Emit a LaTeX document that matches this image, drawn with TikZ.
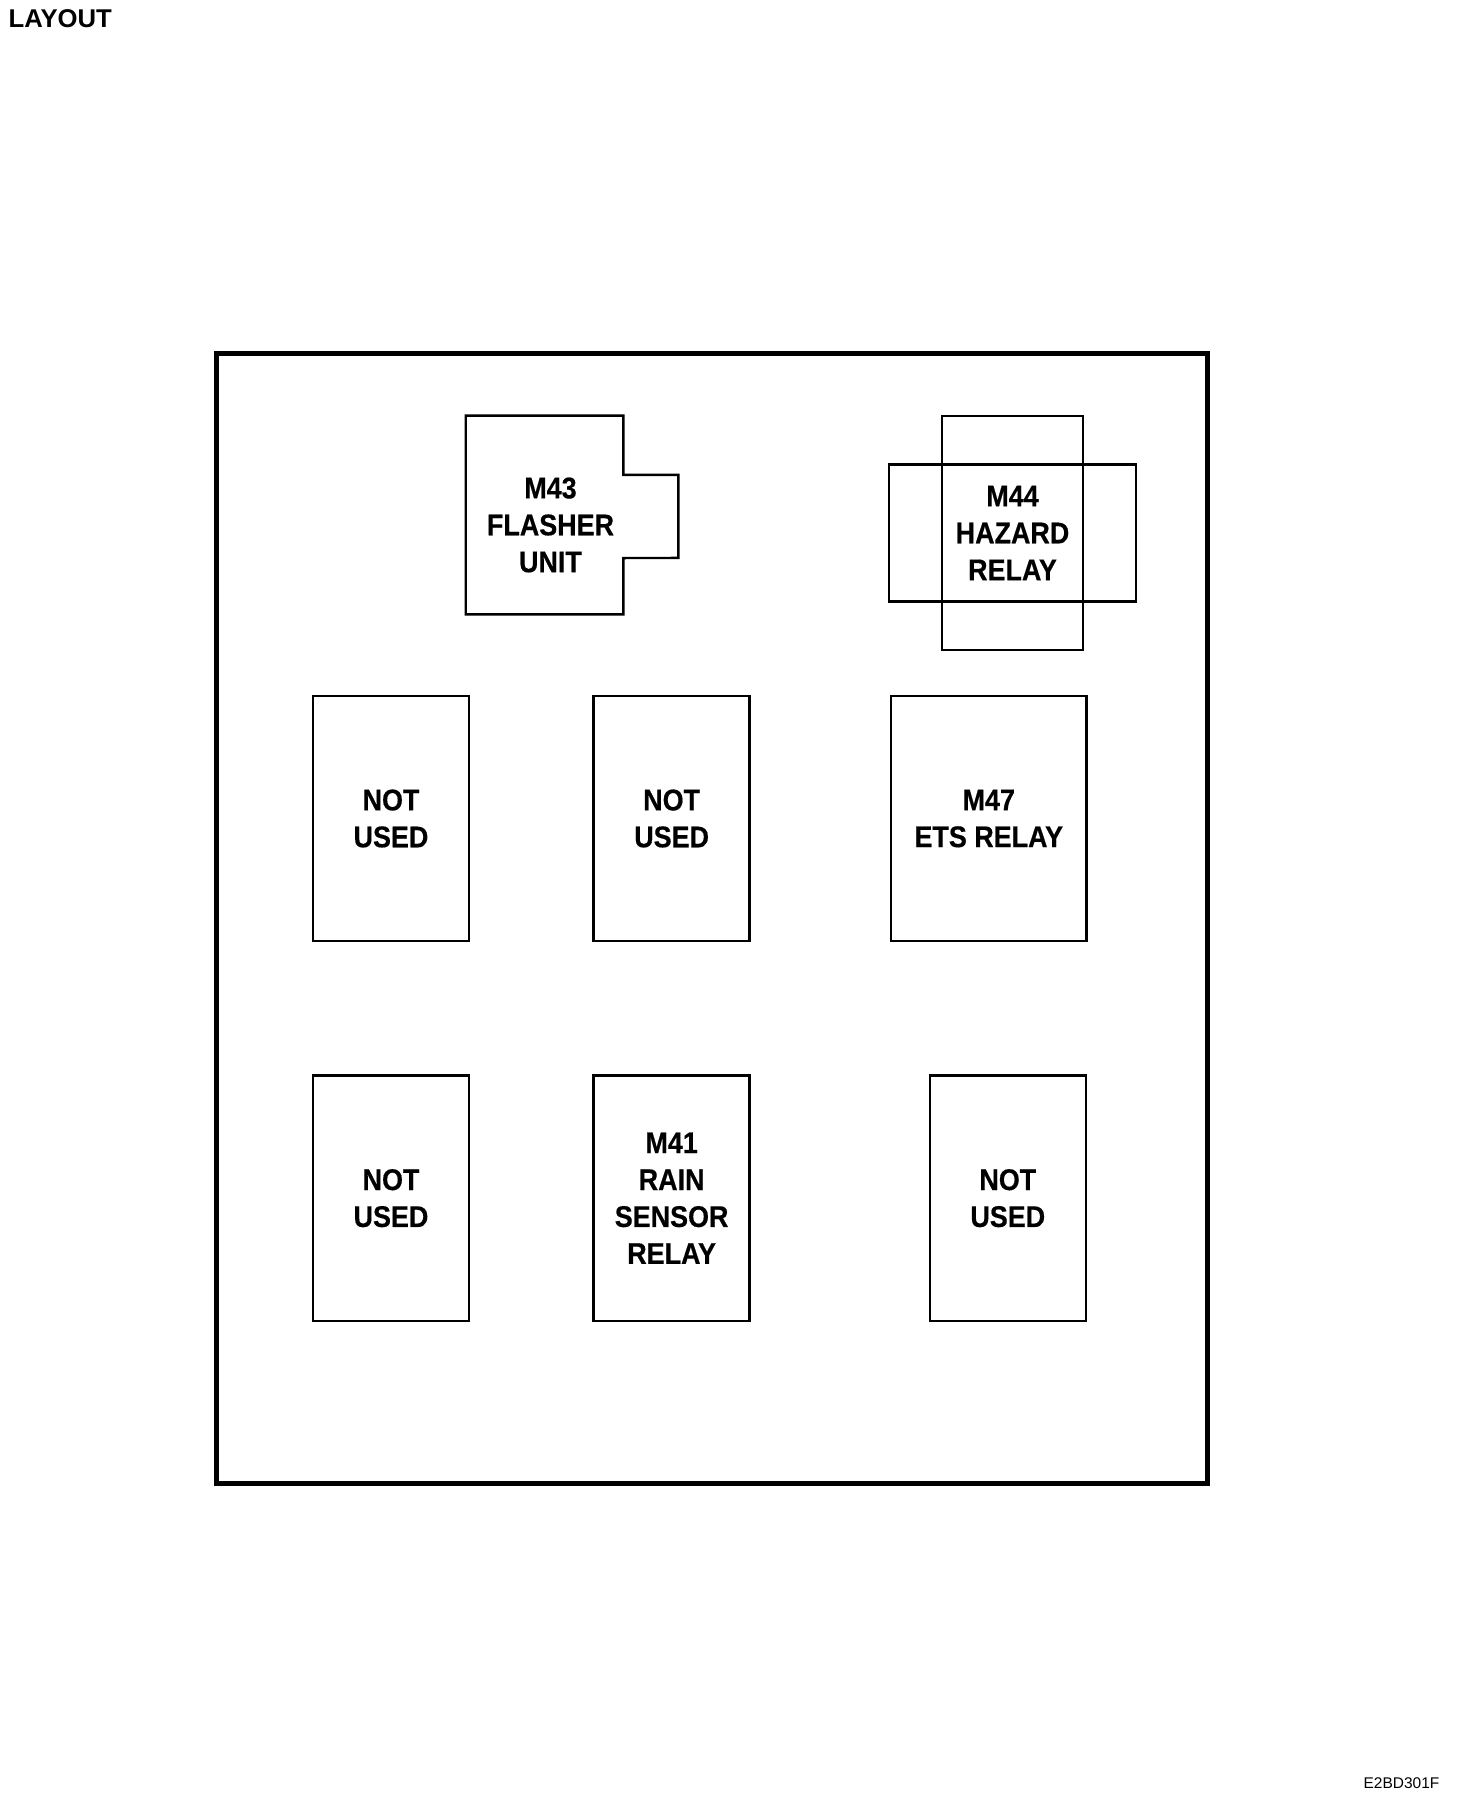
\documentclass[tikz,border=0pt]{standalone}
\usepackage{fontspec}
\setmainfont{Liberation Sans}
\newfontfamily\fuenteCaja[FakeStretch=0.9, BoldFeatures={FakeBold=0.5}]{Liberation Sans}
\usetikzlibrary{positioning}
\tikzset{
  cajaBase/.style={
    draw=black, line width=0.7pt, inner sep=0pt,
    align=center, font=\fuenteCaja\bfseries\fontsize{8.5}{10.5}\selectfont
  },
  cajaRele/.style={cajaBase, minimum width=1.56cm, minimum height=2.45cm},
  cajaMarco/.style={draw=black, line width=1.4pt, minimum width=9.9cm, minimum height=11.29cm},
  lineaCaja/.style={draw=black, line width=0.7pt},
  etiquetaTitulo/.style={font=\bfseries\fontsize{7.3}{8}\selectfont, inner sep=0pt},
  etiquetaCodigo/.style={font=\fontsize{4.4}{5}\selectfont, inner sep=0pt},
}
\begin{document}
\begin{tikzpicture}[x=0.01cm, y=-0.01cm, node distance=1.32cm]
  \useasboundingbox (0,0) rectangle (1472,1810);
  \node[etiquetaTitulo, anchor=base west] (titulo) at (8,28) {LAYOUT};
  \node[etiquetaCodigo, anchor=base east] (codigo) at (1440,1788) {E2BD301F};

  \node[cajaMarco] (marco) at (712,918.5) {};

  % flasher unit with its side tab
  \node[cajaBase, draw=none, minimum width=1.55cm, minimum height=1.96cm] (m43) at (544.5,515) {};
  \node[cajaBase, draw=none] (m43texto) at ([shift={(0.06cm,-0.10cm)}]m43.center)
    {M43\\FLASHER\\UNIT};
  \draw[lineaCaja] (m43.north east) -- ([yshift=0.40cm]m43.east) -- ++(55,0) -- ++(0,83)
    -- ([yshift=-0.43cm]m43.east) -- (m43.south east) -- (m43.south west)
    -- (m43.north west) -- cycle;

  % hazard relay: two crossed bodies
  \node[cajaBase, minimum width=1.41cm, minimum height=2.34cm] (m44) at (1012.5,533)
    {M44\\HAZARD\\RELAY};
  \node[cajaBase, minimum width=2.47cm, minimum height=1.37cm] (m44base) at (m44) {};

  % first row
  \node[cajaRele] (libre1) at (391,818.5) {NOT\\USED};
  \node[cajaRele, right=1.22cm of libre1] (libre2) {NOT\\USED};
  \node[cajaRele, minimum width=1.95cm, right=1.39cm of libre2] (m47) {M47\\ETS RELAY};

  % second row
  \node[cajaRele, below=of libre1] (libre3) {NOT\\USED};
  \node[cajaRele, below=of libre2] (m41) {M41\\RAIN\\SENSOR\\RELAY};
  \node[cajaRele, below=of m47, xshift=0.19cm] (libre4) {NOT\\USED};
\end{tikzpicture}
\end{document}
